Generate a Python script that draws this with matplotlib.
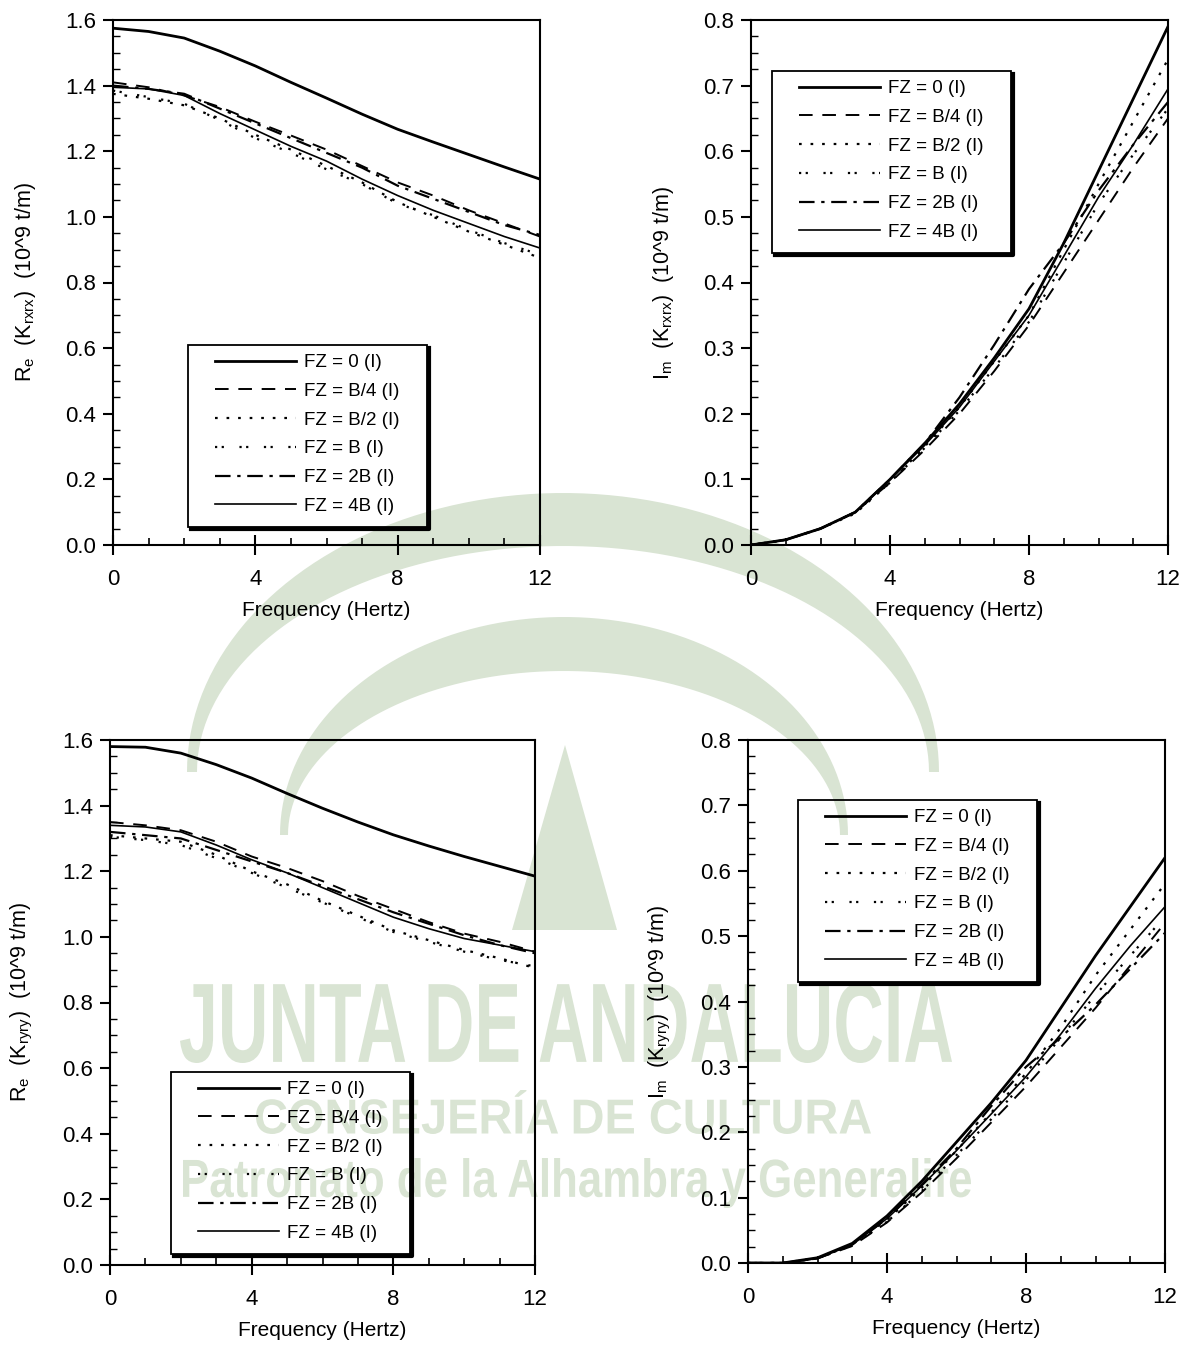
import numpy as np
import matplotlib
matplotlib.use('Agg')
import matplotlib.pyplot as plt
from matplotlib.ticker import MultipleLocator
from matplotlib.textpath import TextPath
from matplotlib.patches import PathPatch, Polygon, Rectangle
from matplotlib.lines import Line2D
from matplotlib.font_manager import FontProperties
import matplotlib.transforms as mtransforms

plt.rcParams['font.family'] = ['Liberation Sans', 'DejaVu Sans']

# frecuencias (Hz)
freq = [0, 1, 2, 3, 4, 5, 6, 7, 8, 9, 10, 11, 12]
labels = ['FZ = 0 (I)', 'FZ = B/4 (I)', 'FZ = B/2 (I)', 'FZ = B (I)', 'FZ = 2B (I)', 'FZ = 4B (I)']

# Re(Krxrx)
re_xx_0 = [1.575, 1.565, 1.545, 1.505, 1.460, 1.410, 1.362, 1.313, 1.267, 1.228, 1.190, 1.152, 1.115]
re_xx_b4 = [1.410, 1.395, 1.370, 1.335, 1.290, 1.248, 1.205, 1.155, 1.105, 1.065, 1.020, 0.980, 0.940]
re_xx_b2 = [1.375, 1.360, 1.340, 1.300, 1.250, 1.205, 1.155, 1.105, 1.045, 1.000, 0.955, 0.915, 0.875]
re_xx_b = [1.385, 1.365, 1.345, 1.295, 1.240, 1.195, 1.145, 1.100, 1.040, 1.005, 0.960, 0.920, 0.885]
re_xx_2b = [1.400, 1.390, 1.375, 1.330, 1.285, 1.240, 1.195, 1.150, 1.095, 1.055, 1.015, 0.975, 0.945]
re_xx_4b = [1.395, 1.390, 1.370, 1.315, 1.265, 1.215, 1.170, 1.115, 1.065, 1.020, 0.980, 0.940, 0.905]

# Im(Krxrx)
im_xx_0 = [0, 0.008, 0.025, 0.050, 0.100, 0.155, 0.215, 0.285, 0.360, 0.460, 0.570, 0.680, 0.790]
im_xx_b4 = [0, 0.008, 0.025, 0.050, 0.095, 0.145, 0.200, 0.265, 0.335, 0.415, 0.495, 0.575, 0.650]
im_xx_b2 = [0, 0.008, 0.025, 0.048, 0.095, 0.150, 0.210, 0.280, 0.350, 0.450, 0.550, 0.645, 0.740]
im_xx_b = [0, 0.008, 0.025, 0.050, 0.095, 0.148, 0.205, 0.270, 0.340, 0.430, 0.520, 0.595, 0.665]
im_xx_2b = [0, 0.008, 0.025, 0.050, 0.100, 0.155, 0.225, 0.305, 0.390, 0.460, 0.540, 0.610, 0.675]
im_xx_4b = [0, 0.008, 0.025, 0.050, 0.100, 0.152, 0.210, 0.280, 0.350, 0.440, 0.530, 0.610, 0.695]

# Re(Kryry)
re_yy_0 = [1.580, 1.578, 1.560, 1.525, 1.484, 1.437, 1.392, 1.350, 1.311, 1.277, 1.245, 1.215, 1.185]
re_yy_b4 = [1.350, 1.340, 1.325, 1.290, 1.245, 1.210, 1.170, 1.125, 1.085, 1.045, 1.010, 0.985, 0.955]
re_yy_b2 = [1.310, 1.300, 1.290, 1.250, 1.200, 1.160, 1.110, 1.065, 1.020, 0.990, 0.960, 0.935, 0.905]
re_yy_b = [1.305, 1.295, 1.280, 1.240, 1.195, 1.150, 1.105, 1.060, 1.015, 0.985, 0.955, 0.930, 0.910]
re_yy_2b = [1.320, 1.310, 1.300, 1.265, 1.230, 1.195, 1.155, 1.115, 1.075, 1.040, 1.005, 0.975, 0.950]
re_yy_4b = [1.340, 1.335, 1.320, 1.280, 1.235, 1.195, 1.150, 1.105, 1.060, 1.025, 0.995, 0.975, 0.955]

# Im(Kryry)
im_yy_0 = [0, 0, 0.008, 0.030, 0.072, 0.125, 0.185, 0.245, 0.310, 0.390, 0.470, 0.545, 0.620]
im_yy_b4 = [0, 0, 0.007, 0.026, 0.062, 0.108, 0.160, 0.215, 0.270, 0.330, 0.390, 0.455, 0.520]
im_yy_b2 = [0, 0, 0.008, 0.028, 0.066, 0.115, 0.172, 0.230, 0.290, 0.360, 0.440, 0.510, 0.580]
im_yy_b = [0, 0, 0.007, 0.027, 0.063, 0.110, 0.165, 0.220, 0.280, 0.345, 0.410, 0.470, 0.530]
im_yy_2b = [0, 0, 0.007, 0.028, 0.068, 0.120, 0.175, 0.240, 0.300, 0.345, 0.395, 0.450, 0.505]
im_yy_4b = [0, 0, 0.007, 0.028, 0.068, 0.118, 0.172, 0.228, 0.285, 0.350, 0.420, 0.485, 0.545]

# estilos de linea (mismo orden que labels)
styles = [dict(ls='-', lw=2.0),
          dict(ls=(0, (7, 5)), lw=1.4),
          dict(ls=(0, (1.2, 4)), lw=1.6),
          dict(ls=(0, (1, 2, 1, 7)), lw=1.6),
          dict(ls=(0, (7, 3, 1.5, 3)), lw=1.6),
          dict(ls='-', lw=1.2)]

W, H = 1193, 1350
fig = plt.figure(figsize=(W / 100, H / 100), dpi=100)

# marca de agua (fondo)
wm_col = '#d9e4d3'


def ellipse_arc(cx, cy, a, b, n=90):
    t = np.linspace(np.pi, 0, n)
    return [((cx + a * np.cos(tt)) / W, 1 - (cy - b * np.sin(tt)) / H) for tt in t]


def crescent(cx, cy, a1, b1, a2, b2):
    outer = ellipse_arc(cx, cy, a1, b1)
    inner = ellipse_arc(cx, cy, a2, b2)[::-1]
    fig.patches.append(Polygon(outer + inner, closed=True, fc=wm_col, ec='none',
                               transform=fig.transFigure, zorder=-5))


crescent(563, 772, 376, 279, 366, 226)
crescent(564, 835, 284, 218, 276, 164)
fig.patches.append(Polygon([(565 / W, 1 - 745 / H), (512 / W, 1 - 930 / H), (617 / W, 1 - 930 / H)],
                           closed=True, fc=wm_col, ec='none', transform=fig.transFigure, zorder=-5))


def wm_text(s, box, weight):
    tp = TextPath((0, 0), s, size=100, prop=FontProperties(family='Liberation Sans', weight=weight))
    ext = tp.get_extents()
    x0, y0, x1, y1 = box
    sx = (x1 - x0) / ext.width / W
    sy = (y1 - y0) / ext.height / H
    tr = (mtransforms.Affine2D().translate(-ext.x0, -ext.y0).scale(sx, sy)
          .translate(x0 / W, 1 - y1 / H) + fig.transFigure)
    fig.patches.append(PathPatch(tp, transform=tr, fc=wm_col, ec='none', zorder=-5))


wm_text('JUNTA DE ANDALUCIA', (180, 983, 952, 1063), 'bold')
wm_text('CONSEJERÍA DE CULTURA', (256, 1090, 871, 1134), 'bold')
wm_text('Patronato de la Alhambra y Generalife', (183, 1158, 971, 1208), 'bold')

panels = [
    dict(rect=(113, 20, 540, 545), ylim=1.6, ymaj=0.2, ymin=0.05,
         ylab=r'R$_\mathregular{e}$  (K$_\mathregular{rxrx}$)  (10^9 t/m)',
         data=[re_xx_0, re_xx_b4, re_xx_b2, re_xx_b, re_xx_2b, re_xx_4b],
         leg=(188, 345)),
    dict(rect=(751, 20, 1168, 545), ylim=0.8, ymaj=0.1, ymin=0.025,
         ylab=r'I$_\mathregular{m}$  (K$_\mathregular{rxrx}$)  (10^9 t/m)',
         data=[im_xx_0, im_xx_b4, im_xx_b2, im_xx_b, im_xx_2b, im_xx_4b],
         leg=(772, 71)),
    dict(rect=(110, 740, 535, 1265), ylim=1.6, ymaj=0.2, ymin=0.05,
         ylab=r'R$_\mathregular{e}$  (K$_\mathregular{ryry}$)  (10^9 t/m)',
         data=[re_yy_0, re_yy_b4, re_yy_b2, re_yy_b, re_yy_2b, re_yy_4b],
         leg=(171, 1072)),
    dict(rect=(748, 740, 1165, 1263), ylim=0.8, ymaj=0.1, ymin=0.025,
         ylab=r'I$_\mathregular{m}$  (K$_\mathregular{ryry}$)  (10^9 t/m)',
         data=[im_yy_0, im_yy_b4, im_yy_b2, im_yy_b, im_yy_2b, im_yy_4b],
         leg=(798, 800)),
]

padx, pady = 27, 9
legends = []
for p in panels:
    x0, y0, x1, y1 = p['rect']
    ax = fig.add_axes([x0 / W, 1 - y1 / H, (x1 - x0) / W, (y1 - y0) / H])
    ax.set_facecolor('none')
    for vals, lab, st in zip(p['data'], labels, styles):
        ax.plot(freq, vals, color='black', label=lab, **st)
    ax.set_xlim(0, 12)
    ax.set_ylim(0, p['ylim'])
    ax.xaxis.set_major_locator(MultipleLocator(4))
    ax.xaxis.set_minor_locator(MultipleLocator(1))
    ax.yaxis.set_major_locator(MultipleLocator(p['ymaj']))
    ax.yaxis.set_minor_locator(MultipleLocator(p['ymin']))
    ax.yaxis.set_major_formatter(lambda v, pos: f'{v:.1f}')
    ax.tick_params(axis='x', which='major', direction='inout', length=14, width=1.5,
                   labelsize=16, pad=10)
    ax.tick_params(axis='x', which='minor', direction='in', length=5, width=1.2)
    ax.tick_params(axis='y', which='major', direction='out', length=7, width=1.5,
                   labelsize=16, pad=5)
    ax.tick_params(axis='y', which='minor', direction='in', length=5, width=1.0)
    for sp in ax.spines.values():
        sp.set_linewidth(1.5)
    ax.set_xlabel('Frequency (Hertz)', fontsize=15, labelpad=8)
    ax.set_ylabel(p['ylab'], fontsize=15.5, labelpad=20)
    lx, ly = p['leg']
    leg = ax.legend(loc='upper left', bbox_to_anchor=((lx + padx) / W, 1 - (ly + pady) / H),
                    bbox_transform=fig.transFigure, fontsize=13.5, handlelength=4.3,
                    labelspacing=0.62, frameon=False, borderpad=0, handletextpad=0.45,
                    borderaxespad=0)
    legends.append(leg)

# marco del leyenda con sombra (transparente, deja ver la marca de agua)
fig.canvas.draw()
ident = mtransforms.IdentityTransform()
for leg in legends:
    bb = leg.get_window_extent()
    fx0, fy0 = bb.x0 - padx, bb.y0 - pady - 3
    fx1, fy1 = bb.x1 + padx, bb.y1 + pady
    fig.patches.append(Rectangle((fx0, fy0), fx1 - fx0, fy1 - fy0, fill=False,
                                 ec='black', lw=1.3, transform=ident, zorder=5))
    fig.lines.append(Line2D([fx0 + 3, fx1 + 2, fx1 + 2], [fy0 - 2, fy0 - 2, fy1 - 3],
                            color='black', lw=3, transform=ident, zorder=5))

fig.savefig('out.png', dpi=100)
